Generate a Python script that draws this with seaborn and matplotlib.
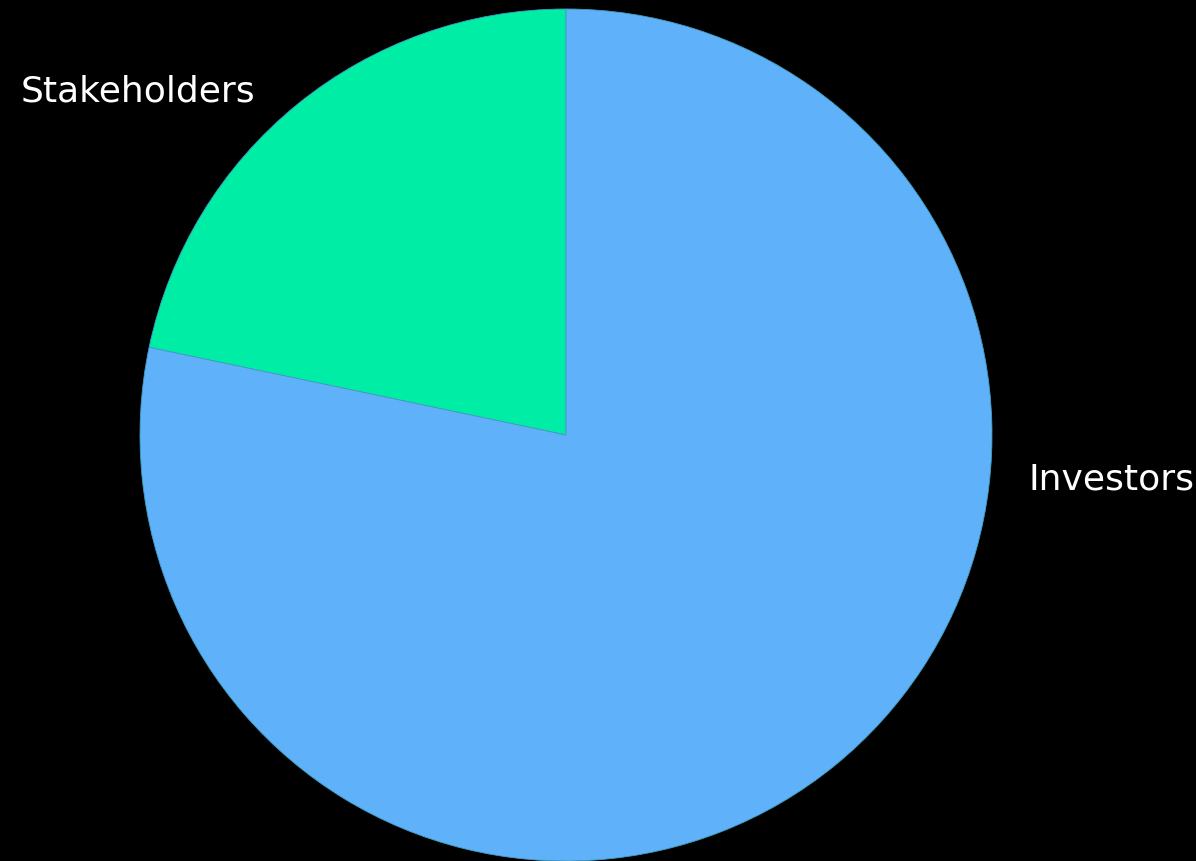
import matplotlib
matplotlib.use("Agg")
import matplotlib.pyplot as plt
import seaborn as sns

# Share of the total by group
groups = ["Stakeholders", "Investors"]
shares = [21.7, 78.3]
slice_colors = ["#00EDA5", "#5FB1FA"]

sns.set_theme(style="dark", rc={"figure.facecolor": "black", "axes.facecolor": "black"})
plt.rcParams["font.family"] = ["DejaVu Sans"]

W, H, DPI = 1196, 862, 100
fig = plt.figure(figsize=(W / DPI, H / DPI), dpi=DPI)
ax = fig.add_axes([0, 0, 1, 1])
ax.set_facecolor("black")

# Pie centred at (566, 436) px with a 426 px radius
cx, cy, r = 566, 436, 426

wedges, texts = ax.pie(
    shares,
    labels=groups,
    colors=slice_colors,
    startangle=90,
    counterclock=True,
    radius=1.0,
    frame=True,
    wedgeprops={"linewidth": 0.6, "edgecolor": "#3f9fc0"},
    textprops={"color": "white", "fontsize": 26},
)
ax.set_xlim(-cx / r, (W - cx) / r)
ax.set_ylim(-(H - cy) / r, cy / r)
ax.set_aspect("auto")
ax.axis("off")

# Label placement
texts[0].set_position(((255 - cx) / r, (cy - 92) / r))
texts[0].set_ha("right")
texts[0].set_va("center")
texts[1].set_position(((1028 - cx) / r, (cy - 480) / r))
texts[1].set_ha("left")
texts[1].set_va("center")

fig.savefig("out.png", dpi=DPI, facecolor="black")
